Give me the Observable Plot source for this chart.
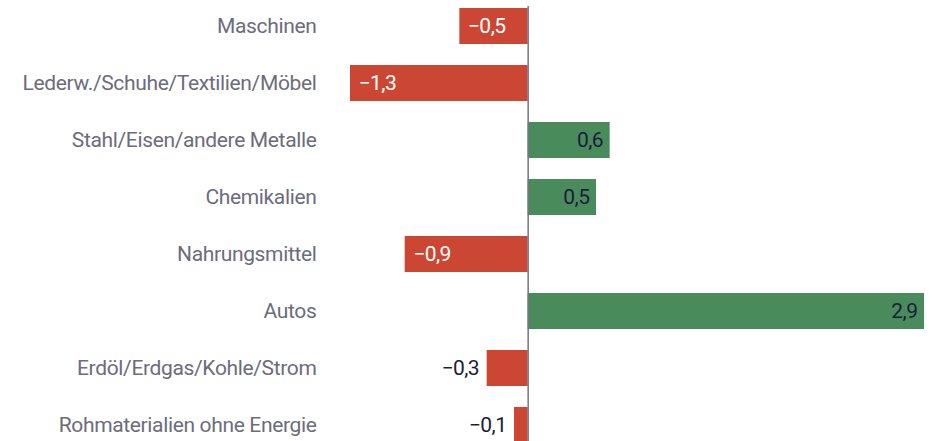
<!DOCTYPE html>
<html>
<head>
<meta charset="utf-8">
<script src="https://cdn.jsdelivr.net/npm/d3@7"></script>
<script src="https://cdn.jsdelivr.net/npm/@observablehq/plot@0.6"></script>
<style>
  html, body { margin: 0; padding: 0; background: #fff; }
  #chart svg { display: block; }
</style>
</head>
<body>
<div id="chart"></div>
<script>
const categories = [
  "Maschinen",
  "Lederw./Schuhe/Textilien/Möbel",
  "Stahl/Eisen/andere Metalle",
  "Chemikalien",
  "Nahrungsmittel",
  "Autos",
  "Erdöl/Erdgas/Kohle/Strom",
  "Rohmaterialien ohne Energie"
];
const values = [-0.5, -1.3, 0.6, 0.5, -0.9, 2.9, -0.3, -0.1];
const valueLabels = ["−0,5", "−1,3", "0,6", "0,5", "−0,9", "2,9", "−0,3", "−0,1"];

const data = categories.map((c, i) => ({cat: c, v: values[i], label: valueLabels[i]}));
const RED = "#cc4733", GREEN = "#4a8b5c", NAVY = "#1c1c3c", GRAY = "#6c6c7c";
const inside = d => Math.abs(d.v) >= 0.4;
const FONT = "Roboto, sans-serif";

const chart = Plot.plot({
  width: 933,
  height: 441,
  marginLeft: 350,
  marginRight: 9,
  marginTop: 0,
  marginBottom: 0,
  style: {fontSize: "21px", fontFamily: FONT},
  x: {domain: [-1.3, 2.9], axis: null},
  y: {domain: categories, range: [-2.6, 454.5], paddingInner: 0.37, paddingOuter: 0.185, axis: null},
  marks: [
    Plot.barX(data, {x: "v", y: "cat", fill: d => d.v < 0 ? RED : GREEN}),
    Plot.ruleX([0], {stroke: "#747486", strokeWidth: 1.5, insetTop: 6}),
    Plot.text(data, {x: -1.3, y: "cat", text: "cat", textAnchor: "end", dx: -34, fill: GRAY, fontSize: 21}),
    Plot.text(data.filter(d => inside(d) && d.v < 0), {x: "v", y: "cat", text: "label", textAnchor: "start", dx: 8, fill: "#fff", fontSize: 21}),
    Plot.text(data.filter(d => inside(d) && d.v > 0), {x: "v", y: "cat", text: "label", textAnchor: "end", dx: -7, fill: NAVY, fontSize: 21}),
    Plot.text(data.filter(d => !inside(d)), {x: "v", y: "cat", text: "label", textAnchor: "end", dx: -8, fill: NAVY, fontSize: 21})
  ]
});
const textGroups = chart.querySelectorAll('g[aria-label="text"]');
textGroups.forEach((g, i) => g.setAttribute("letter-spacing", i === 0 ? "-0.35px" : "-0.5px"));
document.getElementById("chart").appendChild(chart);
</script>
</body>
</html>
